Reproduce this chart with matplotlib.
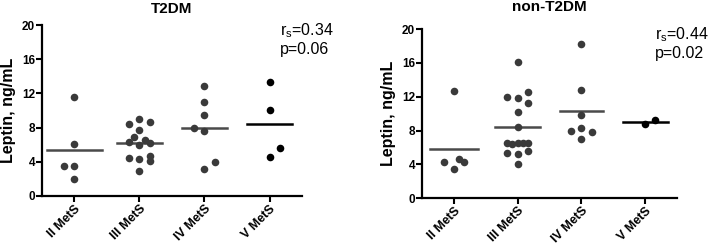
import matplotlib
matplotlib.use("Agg")
import matplotlib.pyplot as plt

plt.rcParams['font.family'] = ['Liberation Sans', 'DejaVu Sans']

categorias = ["II MetS", "III MetS", "IV MetS", "V MetS"]

# T2DM - leptina (ng/mL) por grupo
t2dm_ii = [11.6, 6.1, 3.5, 3.5, 2.0]
t2dm_iii = [9.04, 8.42, 8.62, 7.72, 6.94, 6.35, 6.55, 5.96, 6.2, 4.48, 4.29, 4.68, 4.09, 2.92]
t2dm_iv = [12.87, 11.03, 9.43, 7.91, 7.6, 3.94, 3.2]
t2dm_v = [13.36, 10.02, 5.58, 4.56]

# non-T2DM
non_ii = [12.7, 4.3, 4.58, 4.22, 3.43]
non_iii = [16.13, 11.91, 11.83, 12.54, 11.24, 10.14, 8.36, 6.55, 6.39, 6.55, 6.55, 6.55, 5.36, 5.21, 5.52, 3.99]
non_iv = [18.3, 12.82, 9.82, 7.97, 8.25, 7.81, 6.94]
non_v = [8.72, 9.23]

t2dm_texto = ["0.34", "0.06"]
non_texto = ["0.44", "0.02"]

# desplazamiento horizontal de cada punto (en "slots", estilo beeswarm)
slots_t2dm = [[0, 0, -2, 0, 0],
              [0, -2, 2, 0, -1, -2, 1, 0, 2, -2, 0, 2, 2, 0],
              [0, 0, 0, -2, 0, 2, 0],
              [0, 0, 2, 0]]
slots_non = [[0, -2, 1, 2, 0],
             [0, -2, 0, 2, 2, 0, 0, -2, -1, 0, 1, 2, -2, 0, 2, 0],
             [0, 0, 0, -2, 0, 2, 0],
             [0, 2]]
ancho_t2dm = [0.42, 0.35, 0.35, 0.35]
ancho_non = [0.38, 0.35, 0.34, 0.35]
paso = 0.08

fig = plt.figure(figsize=(7.09, 2.47), dpi=100)
ax1 = fig.add_axes([0.059, 0.2065, 0.367, 0.692])
ax2 = fig.add_axes([0.595, 0.198, 0.36, 0.684])


def dibujar(ax, grupos, slots, anchos, titulo, textos, pad):
    for i, vals in enumerate(grupos):
        pos = i + 1
        color = 'black' if i == 3 else '#3a3a3a'
        xs = [pos + s * paso for s in slots[i]]
        ax.scatter(xs, vals, s=30, color=color, zorder=3, linewidths=0)
        media = sum(vals) / len(vals)
        lc = 'black' if i == 3 else '#4a4a4a'
        ax.plot([pos - anchos[i], pos + anchos[i]], [media, media], color=lc, lw=1.8, zorder=2)
    ax.set_xlim(0.5, 4.5)
    ax.set_ylim(0, 20)
    ax.set_yticks([0, 4, 8, 12, 16, 20])
    ax.set_xticks([1, 2, 3, 4])
    ax.set_xticklabels(categorias, rotation=45, ha='right', rotation_mode='anchor',
                       fontsize=9, fontweight='bold')
    for lab in ax.get_yticklabels():
        lab.set_fontweight('bold')
        lab.set_fontsize(8.5)
    ax.spines['top'].set_visible(False)
    ax.spines['right'].set_visible(False)
    ax.spines['left'].set_linewidth(1.6)
    ax.spines['bottom'].set_linewidth(1.6)
    ax.tick_params(axis='both', length=4, width=1.5, pad=1)
    ax.set_ylabel('Leptin, ng/mL', fontsize=11.5, fontweight='bold', labelpad=4)
    ax.set_title(titulo, fontsize=11, fontweight='bold', pad=pad)
    ax.text(0.915, 1.02, 'r$_\\mathregular{s}$=' + textos[0] + '\np=' + textos[1],
            transform=ax.transAxes, ha='left', va='top', fontsize=11.5,
            linespacing=1.1)


dibujar(ax1, [t2dm_ii, t2dm_iii, t2dm_iv, t2dm_v], slots_t2dm, ancho_t2dm, 'T2DM', t2dm_texto, 9)
dibujar(ax2, [non_ii, non_iii, non_iv, non_v], slots_non, ancho_non, 'non-T2DM', non_texto, 13)

fig.savefig('out.png', dpi=100)
